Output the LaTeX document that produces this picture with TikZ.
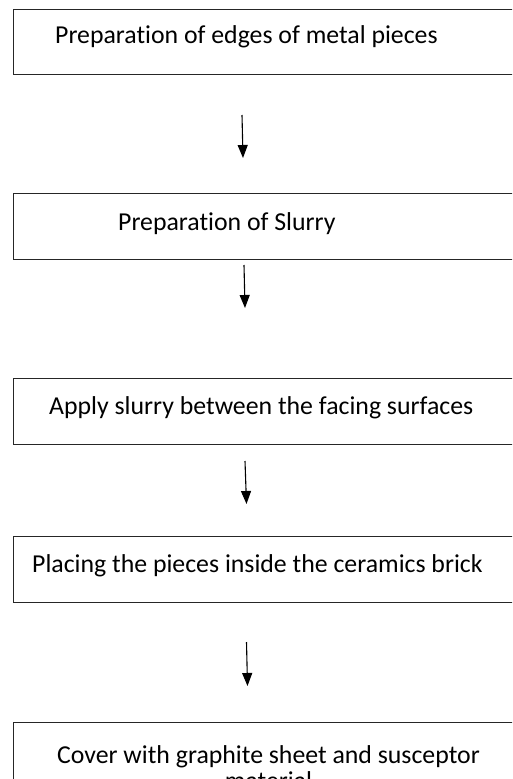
\documentclass[tikz,border=0pt]{standalone}
\usepackage{fontspec}
\setmainfont{Carlito}[Ligatures=NoCommon]
\usetikzlibrary{arrows.meta}
\begin{document}
\begin{tikzpicture}[x=1pt,y=-1pt,
  stepbox/.style={draw=black!85,line width=1pt},
  stepfont/.style={font=\fontsize{25.8}{26}\selectfont},
  steptext/.style={stepfont,anchor=base west,inner sep=0pt},
  flow/.style={draw=black,line width=1.1pt,-{Triangle[width=10pt,length=13pt]}}]
\useasboundingbox (0,0) rectangle (512,779);
\clip (0,0) rectangle (512,779);
\draw[stepbox] (13,9) rectangle (530,74);
\draw[stepbox] (13,193) rectangle (530,259);
\draw[stepbox] (13,378) rectangle (530,444);
\draw[stepbox] (13,536) rectangle (530,602);
\draw[stepbox] (13,722) rectangle (530,820);
\node[steptext] (t1) at (55,43) {Preparation of edges of metal pieces};
\node[steptext] (t2) at (118,230) {Preparation of Slurry};
\node[steptext] (t3) at (49,414) {Apply slurry between the facing surfaces};
\node[steptext] (t4) at (32,572) {Placing the pieces inside the ceramics brick};
\node[stepfont,anchor=base,inner sep=0pt,align=center] (t5) at (268.5,789) {Cover with graphite sheet and susceptor\\material};
\coordinate (a1s) at (242,115); \coordinate (a1e) at (243,158);
\coordinate (a2s) at (244,265); \coordinate (a2e) at (245,308);
\coordinate (a3s) at (245,461); \coordinate (a3e) at (246.5,504);
\coordinate (a4s) at (246.5,642); \coordinate (a4e) at (247.5,686);
\draw[flow] (a1s) -- (a1e);
\draw[flow] (a2s) -- (a2e);
\draw[flow] (a3s) -- (a3e);
\draw[flow] (a4s) -- (a4e);
\end{tikzpicture}
\end{document}
